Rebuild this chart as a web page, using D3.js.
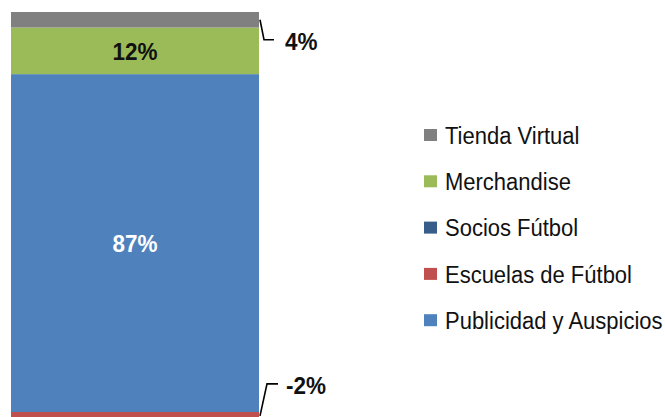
<!DOCTYPE html>
<html>
<head>
<meta charset="utf-8">
<script src="https://cdn.jsdelivr.net/npm/d3@7"></script>
<style>
  body { margin: 0; background: #fff; }
  svg { display: block; font-family: "Liberation Sans", Arial, sans-serif; }
</style>
</head>
<body>
<svg></svg>
<script>
// legend order (top to bottom)
const categories = ['Tienda Virtual', 'Merchandise', 'Socios Fútbol', 'Escuelas de Fútbol', 'Publicidad y Auspicios'];
const values = [4, 12, 0, -2, 87];
const colors = ['#808080', '#9BBB59', '#385D8A', '#C0504D', '#4F81BD'];
const barName = ['Ingresos'];

const svg = d3.select('svg')
	.attr('width', 665)
	.attr('height', 417);

const width = +svg.attr('width'),
	height = +svg.attr('height');

// stacking goes bottom-up: reverse of legend order
const stackKeys = categories.slice().reverse();
const row = { name: barName[0] };
categories.forEach((c, i) => row[c] = values[i]);

const series = d3.stack()
	.keys(stackKeys)
	.offset(d3.stackOffsetDiverging)([row]);

const xScale = d3.scaleBand()
	.domain(barName)
	.range([11, 259])
	.padding(0);

const yScale = d3.scaleLinear()
	.domain([0, d3.sum(values.filter(v => v > 0))])
	.range([412, 12]);

const color = d3.scaleOrdinal()
	.domain(categories)
	.range(colors);

const g = svg.append('g');

g.selectAll('rect.seg')
	.data(series)
	.join('rect')
	.attr('class', 'seg')
	.attr('x', xScale(barName[0]))
	.attr('width', xScale.bandwidth())
	.attr('y', d => yScale(Math.max(d[0][0], d[0][1])))
	.attr('height', d => Math.abs(yScale(d[0][0]) - yScale(d[0][1])))
	.attr('fill', d => color(d.key));

const fmt = v => `${v}%`;
const stretch = 1.1;

// labels
series.forEach(s => {
	const v = s[0].data[s.key];
	if (v === 0) return;
	const y0 = yScale(s[0][0]), y1 = yScale(s[0][1]);
	const mid = (y0 + y1) / 2;
	const x0 = xScale(barName[0]), x1 = x0 + xScale.bandwidth();
	if (Math.abs(v) >= 10) {
		g.append('text')
			.attr('transform', `translate(${(x0 + x1) / 2},${mid}) scale(1,${stretch})`)
			.attr('text-anchor', 'middle')
			.attr('dy', '0.36em')
			.attr('font-size', 22.5)
			.attr('font-weight', 'bold')
			.attr('fill', s.key === categories[4] ? '#fff' : '#111')
			.text(fmt(v));
	} else {
		// small segments get an outside label with a leader line
		const up = v > 0;
		const ly = up ? mid + 20 : mid - 32;
		g.append('path')
			.attr('d', `M${x1 + 1},${mid} L${x1 + (up ? 5 : 8)},${ly} L${x1 + (up ? 15 : 19)},${ly}`)
			.attr('fill', 'none')
			.attr('stroke', '#000')
			.attr('stroke-width', 1.6);
		g.append('text')
			.attr('transform', `translate(${x1 + (up ? 26 : 27)},${ly + 1}) scale(1,${stretch})`)
			.attr('dy', '0.36em')
			.attr('font-size', 22.5)
			.attr('font-weight', 'bold')
			.attr('fill', '#111')
			.text(fmt(v));
	}
});

// legend
const legend = svg.append('g')
	.attr('transform', 'translate(424, 135)');

const items = legend.selectAll('g')
	.data(categories)
	.join('g')
	.attr('transform', (d, i) => `translate(0, ${i * 46.3})`);

items.append('rect')
	.attr('x', 0)
	.attr('y', -6)
	.attr('width', 13)
	.attr('height', 12)
	.attr('fill', d => color(d));

items.append('text')
	.attr('transform', `translate(21, 0) scale(1,${stretch})`)
	.attr('dy', '0.36em')
	.attr('font-size', 22)
	.attr('fill', '#111')
	.text(d => d);
</script>
</body>
</html>
